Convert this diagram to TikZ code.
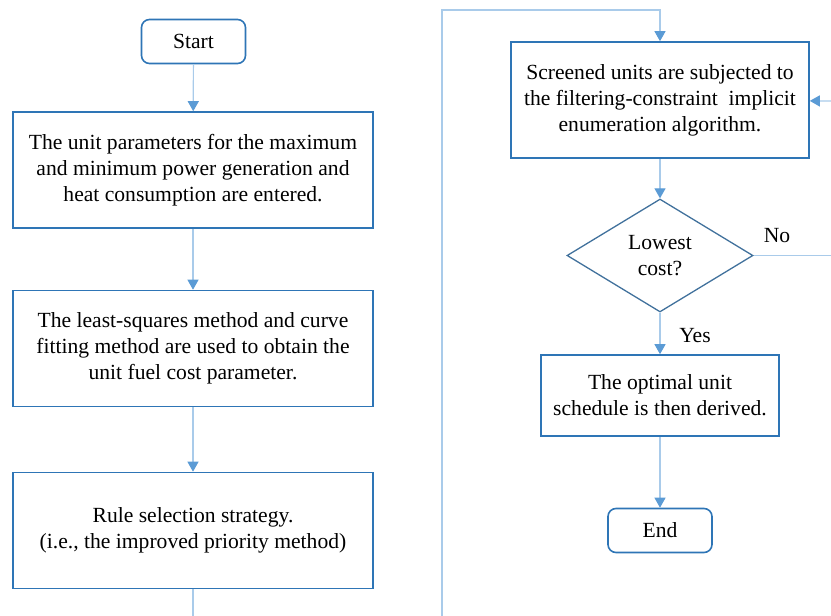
\documentclass[tikz,border=0pt]{standalone}
\usepackage{fontspec}
\setmainfont{Liberation Serif}
\usetikzlibrary{shapes.geometric,arrows.meta}
\definecolor{boxblue}{HTML}{2E75B6}
\definecolor{lineblue}{HTML}{A9CBEA}
\definecolor{tipblue}{HTML}{5B9BD5}
\definecolor{diablue}{HTML}{41719C}
\begin{document}
\begin{tikzpicture}[x=1pt,y=-1pt,
  font=\fontsize{21.6}{26}\selectfont,
  proc/.style={draw=boxblue,line width=1.6pt,inner sep=0pt,align=center,minimum width=360pt,minimum height=116pt},
  term/.style={draw=boxblue,line width=1.6pt,rounded corners=8pt,inner sep=0pt,minimum width=104pt,minimum height=44pt},
  dec/.style={draw=diablue,line width=1.3pt,diamond,aspect=1.65,inner sep=0pt,align=center,minimum width=186pt,minimum height=113pt},
  flow/.style={draw=lineblue,line width=1.2pt,-{Triangle[width=11pt,length=10pt,color=tipblue]}},
  link/.style={draw=lineblue,line width=1.2pt}]
\useasboundingbox (0,0) rectangle (831,616);
\node[term] (start) at (193.5,41.5) {Start};
\node[proc] (enter) at (193,170) {The unit parameters for the maximum\\and minimum power generation and\\heat consumption are entered.};
\node[proc] (fit) at (193,348.5) {The least-squares method and curve\\fitting method are used to obtain the\\unit fuel cost parameter.};
\node[proc] (rule) at (193,530.5) {Rule selection strategy.\\(i.e., the improved priority method)};
\node[proc,minimum width=298pt] (screen) at (660,100) {Screened units are subjected to\\the filtering-constraint\ \ implicit\\enumeration algorithm.};
\node[dec] (lowest) at (660,255.5) {Lowest\\cost?};
\node[proc,minimum width=238pt,minimum height=81pt] (optimal) at (660,395.5) {The optimal unit\\schedule is then derived.};
\node[term] (end) at (660,530.5) {End};
\node (no) at (777,236) {No};
\node (yes) at (695,336) {Yes};
\coordinate (out) at (193,616);
\coordinate (back) at (442,616);
\coordinate (top) at (442,10);
\coordinate (right) at (831,101);
\coordinate (noend) at (831,255.5);
\draw[flow] (start) -- (enter);
\draw[flow] (enter) -- (fit);
\draw[flow] (fit) -- (rule);
\draw[link] (rule) -- (out);
\draw[flow] (back) -- (top) -| (screen);
\draw[flow] (right) -- (screen);
\draw[flow] (screen) -- (lowest);
\draw[link] (lowest) -- (noend);
\draw[flow] (lowest) -- (optimal);
\draw[flow] (optimal) -- (end);
\end{tikzpicture}
\end{document}
